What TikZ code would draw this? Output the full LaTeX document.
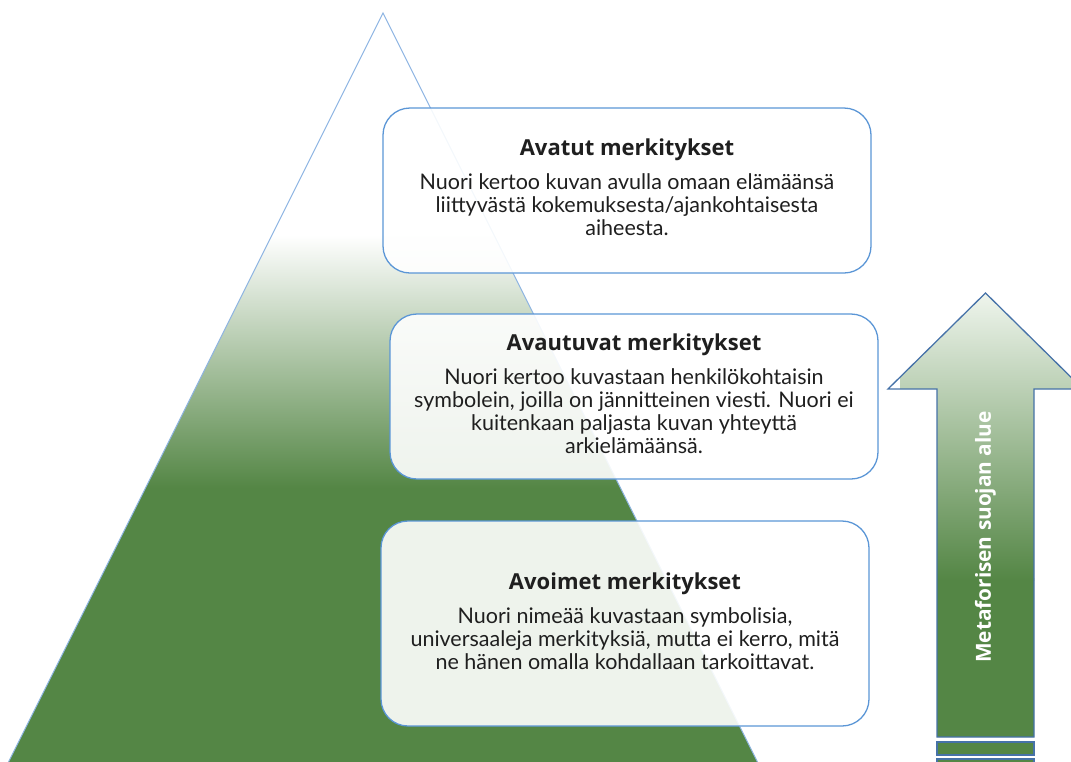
\documentclass[tikz,border=0pt]{standalone}
\usepackage{fontspec}
\setmainfont{Lato}
\newfontfamily\ttlfont{Open Sans}
\definecolor{grn}{RGB}{84,134,69}
\definecolor{tribl}{RGB}{141,180,226}
\definecolor{boxbl}{RGB}{91,150,214}
\definecolor{arrbl}{RGB}{70,114,168}
\definecolor{pale}{RGB}{239,245,237}
\newcommand{\ttl}[1]{{\ttlfont\bfseries\fontsize{22}{23}\selectfont #1}}
\tikzset{
  mbox/.style={draw=boxbl, line width=1.3pt, rounded corners=27pt, fill=white,
    fill opacity=0.9, minimum width=488pt, inner sep=0pt},
  btext/.style={align=center, inner sep=0pt, font=\fontsize{21.5}{23}\selectfont, text=black!88},
  strip/.style={fill=grn, draw=arrbl, line width=1.3pt}
}
\begin{document}
\begin{tikzpicture}[x=1pt,y=-1pt]
\useasboundingbox (0,0) rectangle (1071,761);
% pyramid
\coordinate (apex) at (383,13);
\coordinate (bl) at (-11,801);
\coordinate (br) at (777,801);
\begin{scope}
  \clip (apex) -- (br) -- (bl) -- cycle;
  \fill[grn] (0,486) rectangle (1071,801);
  \shade[top color=white, bottom color=grn] (0,235) rectangle (1071,488);
\end{scope}
\draw[tribl, line width=1pt] (bl) -- (apex) -- (br);
% arrow
\begin{scope}
  \clip (937,737) -- (937,389) -- (888,389) -- (985.5,293) -- (1083,389) -- (1034,389) -- (1034,737) -- cycle;
  \fill[grn] (900,578) rectangle (1090,740);
  \shade[top color=pale, bottom color=grn] (900,293) rectangle (1090,580);
\end{scope}
\draw[arrbl, line width=1.3pt, line join=miter] (937,737) -- (937,389) -- (888,389) -- (985.5,293) -- (1083,389) -- (1034,389) -- (1034,737) -- cycle;
\filldraw[strip] (937,742) rectangle (1034,755);
\filldraw[strip] (937,759) rectangle (1034,775);
\node[rotate=90, text=white, font=\ttlfont\bfseries\fontsize{20.8}{22}\selectfont] (lbl) at (985.5,537) {Metaforisen suojan alue};
% boxes
\node[mbox, minimum height=165pt] (b1) at (627,190.5) {};
\node[btext] (t1) at ([yshift=3pt]b1.center) {\ttl{Avatut merkitykset}\\[11pt]
Nuori kertoo kuvan avulla omaan elämäänsä\\
liittyvästä kokemuksesta/ajankohtaisesta\\
aiheesta.};
\node[mbox, minimum height=165pt] (b2) at (634,396.5) {};
\node[btext] (t2) at ([yshift=3pt]b2.center) {\ttl{Avautuvat merkitykset}\\[11pt]
Nuori kertoo kuvastaan henkilökohtaisin\\
symbolein, joilla on jännitteinen viesti. Nuori ei\\
kuitenkaan paljasta kuvan yhteyttä\\
arkielämäänsä.};
\node[mbox, minimum height=205pt] (b3) at (625,623.5) {};
\node[btext] (t3) at ([yshift=2pt]b3.center) {\ttl{Avoimet merkitykset}\\[11pt]
Nuori nimeää kuvastaan symbolisia,\\
universaaleja merkityksiä, mutta ei kerro, mitä\\
ne hänen omalla kohdallaan tarkoittavat.};
\end{tikzpicture}
\end{document}
